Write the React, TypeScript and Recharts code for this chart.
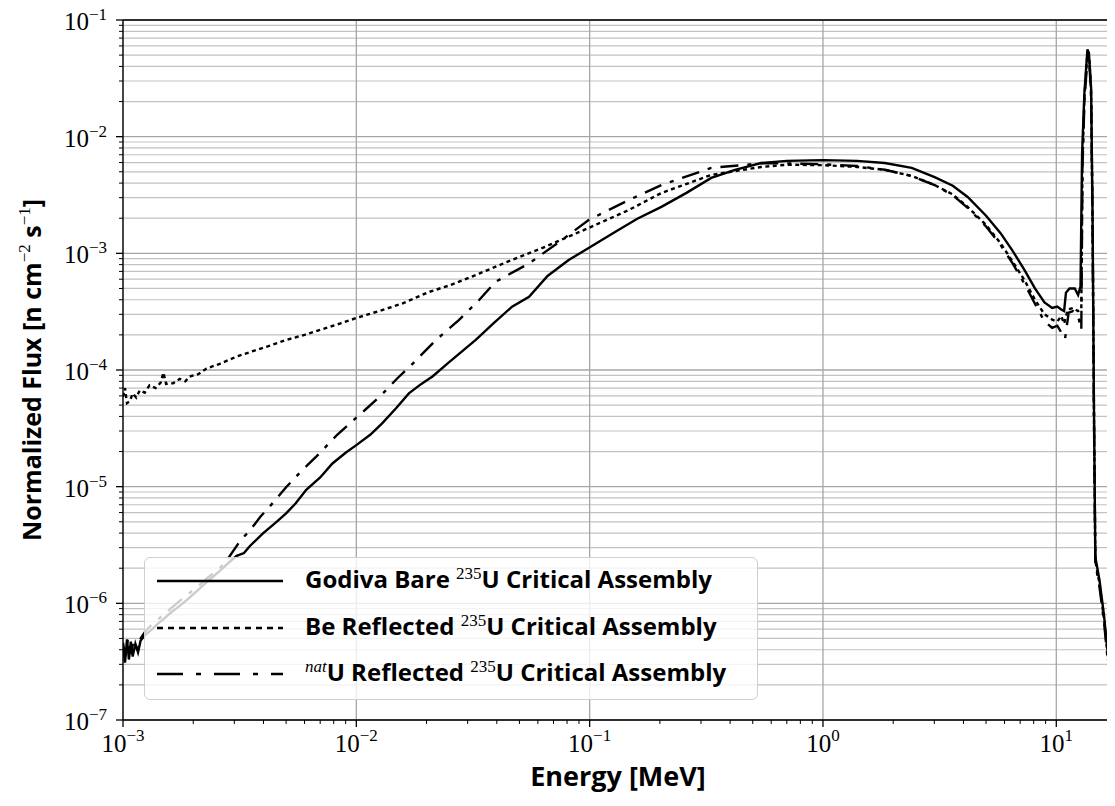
import { LineChart, Line, XAxis, YAxis, CartesianGrid, ReferenceLine, Label } from 'recharts'

// axis ticks
const xMajor = [1e-3, 1e-2, 1e-1, 1, 10]
const yMajor = [1e-7, 1e-6, 1e-5, 1e-4, 1e-3, 1e-2, 1e-1]
const mantissas = [2, 3, 4, 5, 6, 7, 8, 9]
const X_MIN = 1e-3
const X_MAX = 17.5

// Godiva bare (solid)
const godivaE = [
  1.0e-3, 1.02e-3, 1.04e-3, 1.06e-3, 1.08e-3, 1.1e-3, 1.13e-3, 1.16e-3, 1.19e-3, 1.25e-3,
  1.32e-3, 1.4e-3, 1.5e-3, 1.6e-3, 1.75e-3, 1.88e-3, 2.05e-3, 2.2e-3, 2.4e-3, 2.6e-3,
  2.85e-3, 3.07e-3, 3.3e-3, 3.5e-3, 3.98e-3, 4.5e-3, 5.0e-3, 5.5e-3, 6.1e-3, 7.0e-3,
  7.9e-3, 9.0e-3, 1.0e-2, 1.15e-2, 1.29e-2, 1.48e-2, 1.68e-2, 1.9e-2, 2.12e-2, 2.5e-2,
  3.25e-2, 3.9e-2, 4.65e-2, 5.5e-2, 6.6e-2, 8.13e-2, 9.9e-2, 0.129, 0.16, 0.203,
  0.26, 0.332, 0.42, 0.543, 0.7, 1.0, 1.4, 1.84, 2.4, 3.01,
  3.6, 4.17, 5.0, 5.77, 6.5, 7.3, 8.1, 8.9, 9.6, 10.1,
  10.5, 10.8, 11.0, 11.4, 12.0, 12.4, 12.7, 12.9, 13.2, 13.6,
  13.8, 14.1, 14.3, 14.5, 14.7, 15.3, 16.0, 16.8, 17.4,
]
const godivaF = [
  4.2e-7, 3.1e-7, 4.9e-7, 3.3e-7, 4.7e-7, 3.5e-7, 4.5e-7, 3.8e-7, 4.8e-7, 5.4e-7,
  5.9e-7, 6.6e-7, 7.4e-7, 8.3e-7, 9.5e-7, 1.07e-6, 1.25e-6, 1.42e-6, 1.65e-6, 1.9e-6,
  2.25e-6, 2.55e-6, 2.7e-6, 3.1e-6, 3.98e-6, 4.9e-6, 5.9e-6, 7.2e-6, 9.4e-6, 1.2e-5,
  1.58e-5, 1.95e-5, 2.27e-5, 2.8e-5, 3.49e-5, 4.7e-5, 6.3e-5, 7.6e-5, 8.8e-5, 1.17e-4,
  1.81e-4, 2.55e-4, 3.49e-4, 4.25e-4, 6.4e-4, 8.77e-4, 1.11e-3, 1.53e-3, 1.98e-3, 2.5e-3,
  3.3e-3, 4.43e-3, 5.2e-3, 5.94e-3, 6.2e-3, 6.3e-3, 6.2e-3, 5.94e-3, 5.4e-3, 4.5e-3,
  3.8e-3, 3.04e-3, 2.1e-3, 1.49e-3, 1.05e-3, 7.2e-4, 5.0e-4, 3.8e-4, 3.4e-4, 3.5e-4,
  3.3e-4, 3.2e-4, 4.6e-4, 5.0e-4, 5.0e-4, 4.4e-4, 5.2e-4, 7.2e-3, 2.4e-2, 5.6e-2,
  5.2e-2, 2.6e-2, 2.2e-3, 5.0e-5, 2.5e-6, 1.6e-6, 8.0e-7, 3.0e-7, 1.1e-7,
]

// Be reflected (dotted)
const beE = [
  1.0e-3, 1.02e-3, 1.04e-3, 1.07e-3, 1.1e-3, 1.14e-3, 1.18e-3, 1.24e-3, 1.3e-3, 1.38e-3,
  1.45e-3, 1.49e-3, 1.53e-3, 1.64e-3, 1.75e-3, 1.85e-3, 1.93e-3, 2.1e-3, 2.28e-3, 2.6e-3,
  3.06e-3, 3.6e-3, 4.2e-3, 5.0e-3, 6.0e-3, 7.2e-3, 8.5e-3, 1.0e-2, 1.25e-2, 1.58e-2,
  2.05e-2, 2.5e-2, 3.36e-2, 4.65e-2, 6.46e-2, 9.9e-2, 0.147, 0.203, 0.332, 0.543,
  0.7, 1.0, 1.4, 1.84, 2.4, 3.01, 3.6, 4.17, 5.0, 5.77,
  6.5, 7.3, 8.1, 8.9, 9.6, 10.1, 10.5, 10.8, 11.2, 11.8,
  12.4, 12.8, 12.95, 13.2, 13.6, 13.85, 14.1, 14.3, 14.5, 14.7,
  15.3, 16.0, 16.8, 17.4,
]
const beF = [
  5.9e-5, 7.0e-5, 5.2e-5, 5.4e-5, 6.3e-5, 5.8e-5, 6.7e-5, 6.4e-5, 7.4e-5, 7.0e-5,
  7.8e-5, 9.5e-5, 7.6e-5, 7.7e-5, 8.4e-5, 8.0e-5, 8.8e-5, 9.2e-5, 1.03e-4, 1.13e-4,
  1.3e-4, 1.45e-4, 1.6e-4, 1.81e-4, 2.0e-4, 2.25e-4, 2.5e-4, 2.79e-4, 3.2e-4, 3.72e-4,
  4.67e-4, 5.3e-4, 6.7e-4, 8.8e-4, 1.14e-3, 1.65e-3, 2.35e-3, 3.29e-3, 4.7e-3, 5.5e-3,
  5.75e-3, 5.7e-3, 5.5e-3, 5.2e-3, 4.6e-3, 3.85e-3, 3.2e-3, 2.5e-3, 1.75e-3, 1.22e-3,
  8.5e-4, 5.9e-4, 4.0e-4, 3.0e-4, 2.7e-4, 2.6e-4, 2.9e-4, 2.5e-4, 3.3e-4, 3.4e-4,
  3.2e-4, 3.3e-4, 6.0e-3, 2.2e-2, 5.2e-2, 4.8e-2, 2.4e-2, 2.0e-3, 4.5e-5, 2.3e-6,
  1.5e-6, 7.5e-7, 2.8e-7, 1.0e-7,
]

// natU reflected (dash-dot)
const natE = [
  1.0e-3, 1.02e-3, 1.05e-3, 1.08e-3, 1.11e-3, 1.15e-3, 1.19e-3, 1.25e-3, 1.35e-3, 1.45e-3,
  1.6e-3, 1.75e-3, 1.9e-3, 2.1e-3, 2.3e-3, 2.6e-3, 2.85e-3, 3.2e-3, 3.5e-3, 3.87e-3,
  4.4e-3, 5.0e-3, 5.9e-3, 6.95e-3, 8.3e-3, 1.0e-2, 1.26e-2, 1.5e-2, 1.75e-2, 2.19e-2,
  2.75e-2, 3.36e-2, 3.95e-2, 5.5e-2, 7.6e-2, 9.9e-2, 0.147, 0.203, 0.332, 0.543,
  0.7, 1.0, 1.4, 1.84, 2.4, 3.01, 3.6, 4.17, 5.0, 5.77,
  6.5, 7.3, 8.1, 8.9, 9.6, 10.1, 10.5, 10.9, 11.3, 11.8,
  12.4, 12.8, 12.95, 13.2, 13.6, 13.85, 14.1, 14.3, 14.5, 14.7,
  15.3, 16.0, 16.8, 17.4,
]
const natF = [
  4.6e-7, 3.5e-7, 5.0e-7, 3.7e-7, 4.8e-7, 4.1e-7, 5.0e-7, 5.8e-7, 6.8e-7, 7.6e-7,
  9.0e-7, 1.05e-6, 1.2e-6, 1.4e-6, 1.65e-6, 2.0e-6, 2.5e-6, 3.5e-6, 4.2e-6, 5.5e-6,
  7.3e-6, 9.9e-6, 1.4e-5, 1.93e-5, 2.8e-5, 3.9e-5, 5.9e-5, 8.5e-5, 1.14e-4, 1.8e-4,
  2.68e-4, 3.98e-4, 5.7e-4, 8.2e-4, 1.3e-3, 1.93e-3, 2.86e-3, 3.85e-3, 5.4e-3, 5.9e-3,
  5.9e-3, 5.8e-3, 5.6e-3, 5.2e-3, 4.6e-3, 3.85e-3, 3.15e-3, 2.45e-3, 1.7e-3, 1.18e-3,
  8.2e-4, 5.5e-4, 3.7e-4, 2.6e-4, 2.3e-4, 2.4e-4, 2.1e-4, 1.85e-4, 3.1e-4, 3.2e-4,
  2.9e-4, 2.2e-4, 5.5e-3, 2.0e-2, 4.8e-2, 4.5e-2, 2.2e-2, 1.9e-3, 4.2e-5, 2.2e-6,
  1.4e-6, 7.0e-7, 2.6e-7, 1.0e-7,
]

const zip = (es: number[], fs: number[]) => es.map((e, i) => ({ e, f: fs[i] }))
const godivaData = zip(godivaE, godivaF)
const beData = zip(beE, beF)
const natData = zip(natE, natF)

const minorOf = (majors: number[]) => majors.slice(0, -1).flatMap((d) => mantissas.map((m) => m * d))
const xMinor = minorOf(xMajor).filter((v) => v <= X_MAX)
const yMinor = minorOf(yMajor)
const xTicks = [...xMajor, ...xMinor].sort((a, b) => a - b)
const yTicks = [...yMajor, ...yMinor].sort((a, b) => a - b)

const SERIF = '"Liberation Serif", "DejaVu Serif", serif'
const SANS = '"Open Sans", Lato, "DejaVu Sans", sans-serif'
const LW = 2.4
const DOTTED = '4 3.5'
const DASHDOT = '18 9 4 9'

function isMajor(v: number) {
  const ex = Math.log10(v)
  return Math.abs(ex - Math.round(ex)) < 1e-6
}
const expText = (v: number) => {
  const ex = Math.round(Math.log10(v))
  return ex < 0 ? `\u2212${-ex}` : `${ex}`
}

function XTick(props: any) {
  const { x, y, payload } = props
  const v = payload.value
  const major = isMajor(v)
  return (
    <g>
      <line x1={x} x2={x} y1={y} y2={y + (major ? 7 : 4)} stroke="#000" strokeWidth={major ? 1.3 : 1} />
      {major && (
        <text x={x} y={y + 32} textAnchor="middle" fontFamily={SERIF} fontSize={25} fill="#000">
          10<tspan dy={-11} fontSize={17}>{expText(v)}</tspan>
        </text>
      )}
    </g>
  )
}

function YTick(props: any) {
  const { x, y, payload } = props
  const v = payload.value
  const major = isMajor(v)
  return (
    <g>
      <line x1={x} x2={x - (major ? 7 : 4)} y1={y} y2={y} stroke="#000" strokeWidth={major ? 1.3 : 1} />
      {major && (
        <text x={x - 16} y={y + 10} textAnchor="end" fontFamily={SERIF} fontSize={25} fill="#000">
          10<tspan dy={-10} fontSize={17}>{expText(v)}</tspan>
        </text>
      )}
    </g>
  )
}

const sup = (s: string, italic = false) => (
  <span style={{ fontFamily: SERIF, fontWeight: 400, fontSize: 17, fontStyle: italic ? 'italic' : 'normal', position: 'relative', top: -9 }}>{s}</span>
)

const legendRows = [
  { dash: undefined as string | undefined, label: <>Godiva Bare {sup('235')}U Critical Assembly</> },
  { dash: '6 5', label: <>Be Reflected {sup('235')}U Critical Assembly</> },
  { dash: '26 13 5 13', label: <>{sup('nat', true)}U Reflected {sup('235')}U Critical Assembly</> },
]

function ChartLegend() {
  return (
    <div style={{
      position: 'absolute', left: 144, top: 557, width: 614, height: 143,
      background: 'rgba(255,255,255,0.8)', border: '1px solid #cfcfcf', borderRadius: 6,
      boxSizing: 'border-box',
    }}>
      {legendRows.map((r, i) => (
        <div key={i} style={{ position: 'absolute', left: 12, top: 8 + i * 46.5, height: 30, display: 'flex', alignItems: 'center', whiteSpace: 'nowrap' }}>
          <svg width={126} height={30} style={{ display: 'block' }}>
            <line x1={0} x2={126} y1={15} y2={15} stroke="#000" strokeWidth={LW} strokeDasharray={r.dash} />
          </svg>
          <span style={{ marginLeft: 22, fontFamily: SANS, fontWeight: 700, fontSize: 24, color: '#000', lineHeight: '30px' }}>{r.label}</span>
        </div>
      ))}
    </div>
  )
}

export default function App() {
  return (
    <div style={{ position: 'relative', margin: -8, width: 1115, height: 806 }}>
      <LineChart width={1115} height={806} margin={{ top: 20, right: 2, bottom: 0, left: 0 }}>
        <CartesianGrid horizontalValues={yMinor} vertical={false} stroke="#c2c2c2" strokeWidth={1.2} />
        <CartesianGrid horizontalValues={yMajor} verticalValues={xMajor} stroke="#a6a6a6" strokeWidth={1.3} />
        <XAxis
          dataKey="e"
          type="number"
          scale="log"
          domain={[X_MIN, X_MAX]}
          allowDataOverflow
          ticks={xTicks}
          interval={0}
          tick={<XTick />}
          tickLine={false}
          tickSize={0}
          tickMargin={0}
          height={86}
          axisLine={{ stroke: '#000', strokeWidth: 1.3 }}
        >
          <Label
            content={(p: any) => {
              const { x, y, width } = p.viewBox
              return (
                <text x={x + width / 2} y={y + 66} textAnchor="middle" fontFamily={SANS} fontWeight={700} fontSize={27} fill="#000">
                  Energy [MeV]
                </text>
              )
            }}
          />
        </XAxis>
        <YAxis
          type="number"
          scale="log"
          domain={[1e-7, 1e-1]}
          allowDataOverflow
          ticks={yTicks}
          interval={0}
          tick={<YTick />}
          tickLine={false}
          tickSize={0}
          tickMargin={0}
          width={123}
          axisLine={{ stroke: '#000', strokeWidth: 1.3 }}
        >
          <Label
            content={(p: any) => {
              const { y, height } = p.viewBox
              const cx = 41
              const cy = y + height / 2
              return (
                <text x={cx} y={cy} transform={`rotate(-90 ${cx} ${cy})`} textAnchor="middle" fontFamily={SANS} fontWeight={700} fontSize={25} fill="#000">
                  Normalized Flux [n cm<tspan dy={-11} fontFamily={SERIF} fontWeight={400} fontSize={17}>{'\u22122'}</tspan>
                  <tspan dy={11}> s</tspan>
                  <tspan dy={-11} fontFamily={SERIF} fontWeight={400} fontSize={17}>{'\u22121'}</tspan>
                  <tspan dy={11}>]</tspan>
                </text>
              )
            }}
          />
        </YAxis>
        <Line data={godivaData} dataKey="f" type="linear" stroke="#000" strokeWidth={LW} dot={false} isAnimationActive={false} />
        <Line data={beData} dataKey="f" type="linear" stroke="#000" strokeWidth={LW} strokeDasharray={DOTTED} dot={false} isAnimationActive={false} />
        <Line data={natData} dataKey="f" type="linear" stroke="#000" strokeWidth={LW} strokeDasharray={DASHDOT} dot={false} isAnimationActive={false} />
        <ReferenceLine y={1e-1} stroke="#000" strokeWidth={1.3} />
        <ReferenceLine x={X_MAX} stroke="#000" strokeWidth={1.3} />
      </LineChart>
      <ChartLegend />
    </div>
  )
}
